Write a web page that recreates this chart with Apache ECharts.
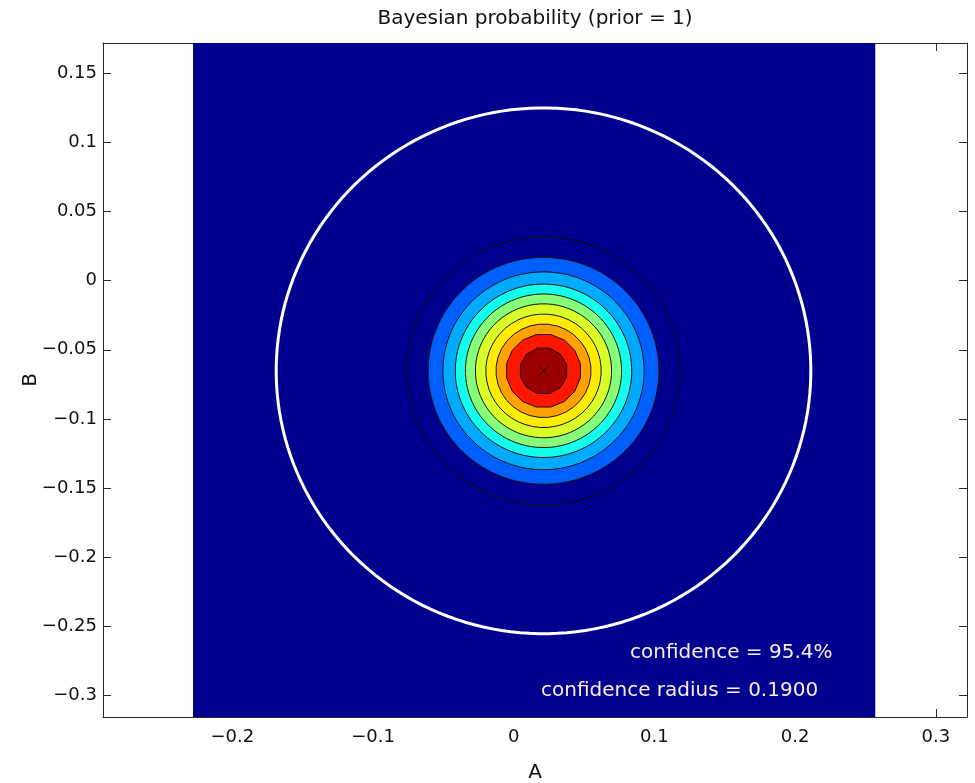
<!DOCTYPE html>
<html>
<head>
<meta charset="utf-8">
<script src="https://cdn.jsdelivr.net/npm/echarts@6/dist/echarts.min.js"></script>
<style>
  html, body { margin: 0; padding: 0; background: #ffffff; }
  #chart { width: 975px; height: 783px; }
</style>
</head>
<body>
<div id="chart"></div>
<script>
// Axis limits and tick positions
const xRange = [-0.2919, 0.3222];
const yRange = [-0.3154, 0.1717];
const xTicks = [-0.2, -0.1, 0, 0.1, 0.2, 0.3];
const yTicks = [-0.3, -0.25, -0.2, -0.15, -0.1, -0.05, 0, 0.05, 0.1, 0.15];

// Extent of the evaluated probability grid (A, B)
const surfaceA = [-0.2279, 0.2570];
const surfaceB = [-0.3154, 0.1717];

// Posterior peak and radii of the filled contour levels, outermost first
const peak = [0.0212, -0.0652];
const contourRadii = [0.097, 0.082, 0.0715, 0.0627, 0.0555, 0.0484, 0.041, 0.0338, 0.0267, 0.017];

// Confidence region
const confidence = 95.4;
const confidenceRadius = 0.19;

// ---- styling ----
const FONT = '"DejaVu Sans", "Liberation Sans", Arial, sans-serif';
const navy = '#00008F';
const bandFill = ['#00008F', '#0060FF', '#00AAFF', '#14FFEB', '#86FF79',
                  '#D8FF27', '#FFEC00', '#FFA200', '#FF1600', '#9A0000'];
const ringSides = [128, 128, 128, 96, 96, 72, 48, 32, 16, 12];
const axisColor = '#2a2a2a';

const fmt = v => {
  if (Math.abs(v) < 1e-12) return '0';
  return String(+v.toFixed(2)).replace('-', '\u2212');
};

function ringPoints(api, cx, cy, r, n) {
  const pts = [];
  for (let k = 0; k < n; k++) {
    const a = 2 * Math.PI * k / n + Math.PI / n;
    pts.push(api.coord([cx + r * Math.cos(a), cy + r * Math.sin(a)]));
  }
  return pts;
}

const baseX = {
  type: 'value', min: xRange[0], max: xRange[1],
  splitLine: { show: false },
  axisLine: { show: true, onZero: false, lineStyle: { color: axisColor, width: 1 } },
  axisTick: { show: true, inside: true, length: 8, customValues: xTicks, lineStyle: { color: axisColor } }
};
const baseY = {
  type: 'value', min: yRange[0], max: yRange[1],
  splitLine: { show: false },
  axisLine: { show: true, onZero: false, lineStyle: { color: axisColor, width: 1 } },
  axisTick: { show: true, inside: true, length: 8, customValues: yTicks, lineStyle: { color: axisColor } }
};

const chart = echarts.init(document.getElementById('chart'), null, { renderer: 'canvas' });

chart.setOption({
  animation: false,
  backgroundColor: '#ffffff',
  grid: { left: 103, right: 8, top: 43, bottom: 66, containLabel: false, outerBoundsMode: 'none' },
  xAxis: [
    Object.assign({}, baseX, {
      position: 'bottom',
      axisLabel: { customValues: xTicks, formatter: fmt, fontFamily: FONT, fontSize: 18, color: '#111', margin: 11 },
      name: 'A', nameLocation: 'middle', nameGap: 46, nameMoveOverlap: false,
      nameTextStyle: { fontFamily: FONT, fontSize: 20, color: '#111' }
    }),
    Object.assign({}, baseX, { position: 'top', axisLabel: { show: false } })
  ],
  yAxis: [
    Object.assign({}, baseY, {
      position: 'left',
      axisLabel: { customValues: yTicks, formatter: fmt, fontFamily: FONT, fontSize: 18, color: '#111', margin: 6 },
      name: 'B', nameLocation: 'middle', nameGap: 62, nameMoveOverlap: false,
      nameTextStyle: { fontFamily: FONT, fontSize: 20, color: '#111' }
    }),
    Object.assign({}, baseY, { position: 'right', axisLabel: { show: false } })
  ],
  series: [
    {
      // lowest contour band fills the whole evaluated grid
      type: 'custom', clip: true, z: 2,
      data: [[surfaceA[0], surfaceB[0], surfaceA[1], surfaceB[1]]],
      encode: { x: [0, 2], y: [1, 3] },
      renderItem: (params, api) => {
        const p0 = api.coord([api.value(0), api.value(1)]);
        const p1 = api.coord([api.value(2), api.value(3)]);
        return {
          type: 'rect',
          shape: { x: p0[0], y: p1[1], width: p1[0] - p0[0], height: p0[1] - p1[1] },
          style: { fill: navy }
        };
      }
    },
    {
      // filled contour levels with their black contour lines
      type: 'custom', clip: true, z: 3,
      data: contourRadii.map(r => [peak[0], peak[1], r]),
      encode: { x: 0, y: 1 },
      renderItem: (params, api) => {
        const i = params.dataIndex;
        return {
          type: 'polygon',
          shape: { points: ringPoints(api, api.value(0), api.value(1), api.value(2), ringSides[i]) },
          style: { fill: bandFill[i], stroke: '#101010', lineWidth: 1 }
        };
      }
    },
    {
      // confidence circle
      type: 'custom', clip: true, z: 4,
      data: [[peak[0], peak[1], confidenceRadius]],
      encode: { x: 0, y: 1 },
      renderItem: (params, api) => ({
        type: 'polygon',
        shape: { points: ringPoints(api, api.value(0), api.value(1), api.value(2), 180) },
        style: { fill: null, stroke: '#ffffff', lineWidth: 3 }
      })
    },
    {
      // peak marker
      type: 'custom', clip: true, z: 5,
      data: [peak],
      encode: { x: 0, y: 1 },
      renderItem: (params, api) => {
        const c = api.coord([api.value(0), api.value(1)]);
        const h = 4.5;
        const st = { stroke: '#3a0000', lineWidth: 1 };
        return {
          type: 'group',
          children: [
            { type: 'line', shape: { x1: c[0] - h, y1: c[1] - h, x2: c[0] + h, y2: c[1] + h }, style: st },
            { type: 'line', shape: { x1: c[0] - h, y1: c[1] + h, x2: c[0] + h, y2: c[1] - h }, style: st }
          ]
        };
      }
    }
  ],
  graphic: [
    {
      type: 'text', x: 535, y: 19, z: 100,
      style: { text: 'Bayesian probability (prior = 1)', fontFamily: FONT, fontSize: 20, fill: '#111',
               textAlign: 'center', textVerticalAlign: 'middle', align: 'center', verticalAlign: 'middle' }
    },
    {
      type: 'text', x: 630, y: 653, z: 100,
      style: { text: 'confidence = ' + confidence.toFixed(1) + '%', fontFamily: FONT, fontSize: 20, fill: '#FAEDE8',
               textAlign: 'left', textVerticalAlign: 'middle', align: 'left', verticalAlign: 'middle' }
    },
    {
      type: 'text', x: 541, y: 691, z: 100,
      style: { text: 'confidence radius = ' + confidenceRadius.toFixed(4), fontFamily: FONT, fontSize: 20, fill: '#FAEDE8',
               textAlign: 'left', textVerticalAlign: 'middle', align: 'left', verticalAlign: 'middle' }
    }
  ]
});
</script>
</body>
</html>
